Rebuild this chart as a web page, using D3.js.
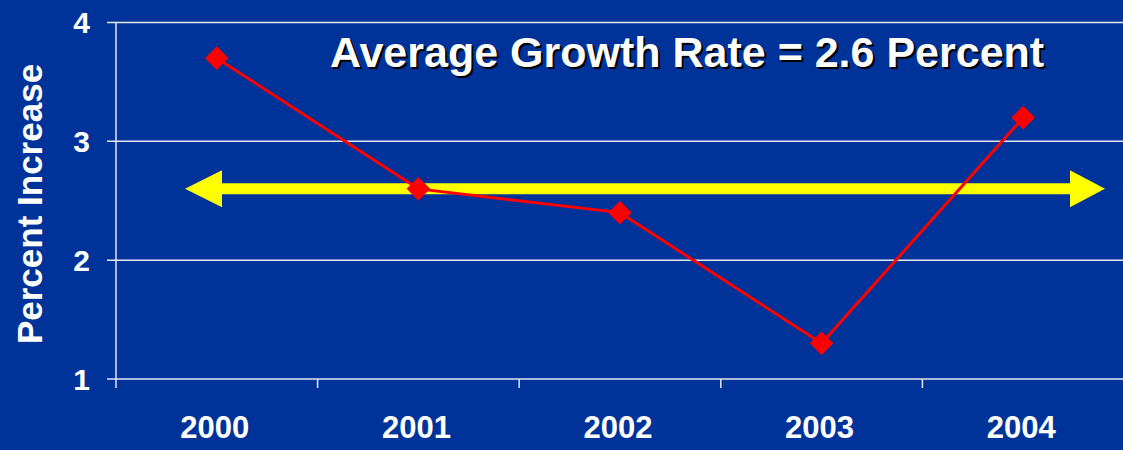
<!DOCTYPE html>
<html>
<head>
<meta charset="utf-8">
<script src="https://cdn.jsdelivr.net/npm/d3@7"></script>
<style>
  html, body { margin: 0; padding: 0; background: #003399; }
  svg { display: block; font-family: "Liberation Sans", Arial, sans-serif; font-weight: bold; }
</style>
</head>
<body>
<svg id="chart" width="1123" height="450"></svg>
<script>
// Annual percent increase, 2000-2004
const years = ["2000", "2001", "2002", "2003", "2004"];
const percentIncrease = [3.7, 2.6, 2.4, 1.3, 3.2];
const yTicks = [1, 2, 3, 4];
const averageRate = 2.6;
const titleText = "Average Growth Rate = " + averageRate + " Percent";
const yTitle = "Percent Increase";

const W = 1123, H = 450;
const plot = { left: 116, right: 1124, top: 22.5, bottom: 379 };

const svg = d3.select("#chart");
svg.append("rect").attr("width", W).attr("height", H).attr("fill", "#003399");

const x = d3.scaleBand().domain(years).range([plot.left, plot.right]).padding(0);
const y = d3.scaleLinear().domain([1, 4]).range([plot.bottom, plot.top]);

// horizontal gridlines + y tick marks
const gridColor = "#e4e6f0";
svg.append("g")
  .selectAll("line")
  .data(yTicks)
  .join("line")
  .attr("x1", plot.left - 9)
  .attr("x2", W)
  .attr("y1", d => y(d))
  .attr("y2", d => y(d))
  .attr("stroke", gridColor)
  .attr("stroke-width", 1.5);

// y axis line
svg.append("line")
  .attr("x1", plot.left).attr("x2", plot.left)
  .attr("y1", y(4)).attr("y2", plot.bottom + 9)
  .attr("stroke", gridColor).attr("stroke-width", 1.5);

// x ticks at category boundaries
svg.append("g")
  .selectAll("line")
  .data(years.slice(1))
  .join("line")
  .attr("x1", d => x(d)).attr("x2", d => x(d))
  .attr("y1", plot.bottom).attr("y2", plot.bottom + 9)
  .attr("stroke", gridColor).attr("stroke-width", 1.5);

// y tick labels
svg.append("g")
  .selectAll("text")
  .data(yTicks)
  .join("text")
  .attr("x", 90)
  .attr("y", d => y(d))
  .attr("dy", "0.36em")
  .attr("text-anchor", "end")
  .attr("fill", "#ffffff")
  .attr("font-size", 30)
  .text(d => d);

// x labels
svg.append("g")
  .selectAll("text")
  .data(years)
  .join("text")
  .attr("x", d => x(d) + x.bandwidth() / 2 - 2)
  .attr("y", 438)
  .attr("text-anchor", "middle")
  .attr("fill", "#ffffff")
  .attr("font-size", 31)
  .text(d => d);

// y axis title
svg.append("text")
  .attr("transform", "translate(42," + 204 + ") rotate(-90)")
  .attr("text-anchor", "middle")
  .attr("fill", "#ffffff")
  .attr("font-size", 35)
  .text(yTitle);

// double-headed arrow marking the average rate
const ay = y(averageRate);
const tipL = 185, baseL = 222, baseR = 1070, tipR = 1105;
const shaftHalf = 5.5, headHalf = 18.5;
const arrowPts = [
  [tipL, ay],
  [baseL, ay - headHalf],
  [baseL, ay - shaftHalf],
  [baseR, ay - shaftHalf],
  [baseR, ay - headHalf],
  [tipR, ay],
  [baseR, ay + headHalf],
  [baseR, ay + shaftHalf],
  [baseL, ay + shaftHalf],
  [baseL, ay + headHalf]
];
svg.append("path")
  .attr("d", d3.line()(arrowPts) + "Z")
  .attr("fill", "#ffff00");

// series line
const pts = years.map((yr, i) => ({ yr, v: percentIncrease[i] }));
svg.append("path")
  .datum(pts)
  .attr("d", d3.line().x(d => x(d.yr) + x.bandwidth() / 2).y(d => y(d.v)))
  .attr("fill", "none")
  .attr("stroke", "#ff0000")
  .attr("stroke-width", 3);

// diamond markers
const diamond = d3.symbol().type(d3.symbolSquare).size(280);
svg.append("g")
  .selectAll("path")
  .data(pts)
  .join("path")
  .attr("d", diamond)
  .attr("transform", d => "translate(" + (x(d.yr) + x.bandwidth() / 2) + "," + y(d.v) + ") rotate(45)")
  .attr("fill", "#ff0000");

// title with drop shadow
const title = svg.append("g").attr("font-size", 43);
title.append("text")
  .attr("x", 332).attr("y", 69)
  .attr("fill", "#000000")
  .text(titleText);
title.append("text")
  .attr("x", 330).attr("y", 67)
  .attr("fill", "#ffffff")
  .text(titleText);
</script>
</body>
</html>
